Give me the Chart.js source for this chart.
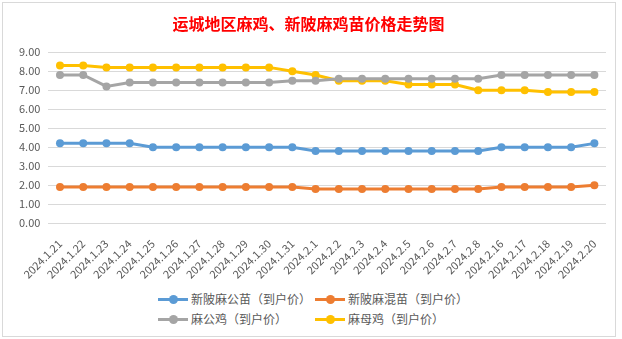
<!DOCTYPE html>
<html>
<head>
<meta charset="utf-8">
<script src="https://cdn.jsdelivr.net/npm/chart.js@4"></script>
<style>
  html, body { margin: 0; padding: 0; background: #fff; }
  .box {
    position: absolute; left: 2px; top: 2px;
    width: 612px; height: 333px;
    border: 1px solid #d9d9d9; background: #fff;
  }
  .chart-wrap { position: absolute; left: 0; top: 0; width: 612px; height: 284px; }
  .legend {
    position: absolute; left: 155px; top: 286px; width: 330px;
    font-family: "Noto Sans CJK SC", sans-serif; font-size: 12px; color: #595959;
  }
  .legend .item { float: left; display: flex; align-items: center; width: 157px; height: 20px; line-height: 20px; white-space: nowrap; }
  .legend .mark { position: relative; width: 30px; height: 3px; margin-right: 3px; }
  .legend .mark i { position: absolute; left: 11px; top: -3px; width: 9px; height: 9px; border-radius: 50%; }
</style>
</head>
<body>
<div class="box">
  <div class="chart-wrap"><canvas class="chart"></canvas></div>
  <div class="legend"></div>
</div>
<script>
// categories
const dates = ['2024.1.21', '2024.1.22', '2024.1.23', '2024.1.24', '2024.1.25', '2024.1.26', '2024.1.27', '2024.1.28',
  '2024.1.29', '2024.1.30', '2024.1.31', '2024.2.1', '2024.2.2', '2024.2.3', '2024.2.4', '2024.2.5', '2024.2.6',
  '2024.2.7', '2024.2.8', '2024.2.16', '2024.2.17', '2024.2.18', '2024.2.19', '2024.2.20'];

// series values
const gongMiao = [4.2, 4.2, 4.2, 4.2, 4.0, 4.0, 4.0, 4.0, 4.0, 4.0, 4.0, 3.8, 3.8, 3.8, 3.8, 3.8, 3.8, 3.8, 3.8, 4.0, 4.0, 4.0, 4.0, 4.2];
const hunMiao = [1.9, 1.9, 1.9, 1.9, 1.9, 1.9, 1.9, 1.9, 1.9, 1.9, 1.9, 1.8, 1.8, 1.8, 1.8, 1.8, 1.8, 1.8, 1.8, 1.9, 1.9, 1.9, 1.9, 2.0];
const gongJi = [7.8, 7.8, 7.2, 7.4, 7.4, 7.4, 7.4, 7.4, 7.4, 7.4, 7.5, 7.5, 7.6, 7.6, 7.6, 7.6, 7.6, 7.6, 7.6, 7.8, 7.8, 7.8, 7.8, 7.8];
const muJi = [8.3, 8.3, 8.2, 8.2, 8.2, 8.2, 8.2, 8.2, 8.2, 8.2, 8.0, 7.8, 7.5, 7.5, 7.5, 7.3, 7.3, 7.3, 7.0, 7.0, 7.0, 6.9, 6.9, 6.9];

const seriesNames = ['新陂麻公苗（到户价）', '新陂麻混苗（到户价）', '麻公鸡（到户价）', '麻母鸡（到户价）'];
const seriesColors = ['#5b9bd5', '#ed7d31', '#a5a5a5', '#ffc000'];
const seriesData = [gongMiao, hunMiao, gongJi, muJi];

// y ticks
const yMin = 0, yMax = 9, yStep = 1;

const font = '"Noto Sans CJK SC", "Noto Sans", sans-serif';

const datasets = seriesData.map((d, i) => ({
  label: seriesNames[i],
  data: d,
  borderColor: seriesColors[i],
  backgroundColor: seriesColors[i],
  borderWidth: 3,
  pointRadius: 4,
  pointHoverRadius: 4,
  pointBorderWidth: 0,
  tension: 0,
  fill: false
}));

// html legend
const lg = document.querySelector('.legend');
seriesNames.forEach((n, i) => {
  const it = document.createElement('span');
  it.className = 'item';
  it.innerHTML = '<span class="mark" style="background:' + seriesColors[i] + '"><i style="background:' + seriesColors[i] + '"></i></span>' + n;
  lg.appendChild(it);
});

const ct = document.querySelector('.chart');
new Chart(ct, {
  type: 'line',
  data: { labels: dates, datasets: datasets },
  options: {
    responsive: true,
    maintainAspectRatio: false,
    animation: false,
    layout: { padding: { left: 8, right: 9, top: 5, bottom: 0 } },
    scales: {
      x: {
        offset: true,
        grid: { display: false },
        border: { display: false },
        ticks: {
          maxRotation: 45,
          minRotation: 45,
          autoSkip: false,
          color: '#595959',
          font: { family: font, size: 11 },
          padding: 6
        }
      },
      y: {
        min: yMin,
        max: yMax,
        grid: { color: '#d9d9d9', drawTicks: false },
        border: { display: false },
        ticks: {
          stepSize: yStep,
          color: '#595959',
          font: { family: font, size: 11 },
          padding: 8,
          callback: v => v.toFixed(2)
        }
      }
    },
    plugins: {
      legend: { display: false },
      tooltip: { enabled: false },
      title: {
        display: true,
        text: '运城地区麻鸡、新陂麻鸡苗价格走势图',
        color: '#ff0000',
        font: { family: font, size: 16, weight: 'bold' },
        padding: { top: 6, bottom: 19 }
      }
    }
  }
});
</script>
</body>
</html>
